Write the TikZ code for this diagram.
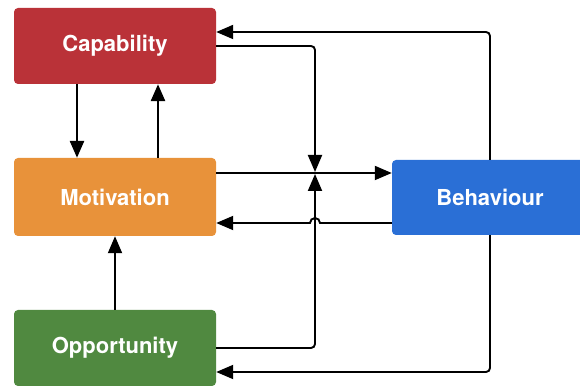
\documentclass[tikz,border=0pt]{standalone}
\usepackage{fontspec}
\setmainfont{TeX Gyre Heros}
\usetikzlibrary{arrows.meta}
\definecolor{capred}{RGB}{186,50,56}
\definecolor{motorange}{RGB}{232,146,58}
\definecolor{oppgreen}{RGB}{80,137,64}
\definecolor{behblue}{RGB}{42,111,214}
\tikzset{
  box/.style={rounded corners=4pt, minimum width=202pt, minimum height=76pt,
    inner sep=0pt, text=white, font=\fontsize{22}{26}\selectfont\bfseries},
  link/.style={line width=1.9pt, rounded corners=4pt},
  tip/.style={-{Triangle[length=17pt,width=14pt]}}
}

\begin{document}
\begin{tikzpicture}[x=1pt,y=1pt]
\useasboundingbox (0,0) rectangle (580,385);

% the four boxes
\node[box, fill=capred] (cap) at (115,339) {Capability};
\node[box, fill=motorange, minimum height=78pt] (mot) at (115,188) {Motivation};
\node[box, fill=oppgreen] (opp) at (115,37) {Opportunity};
\node[box, fill=behblue, minimum width=196pt, minimum height=75pt] (beh) at (490,187.5) {Behaviour};

% bends and meeting points
\coordinate (jtop) at (315,213); \coordinate (jbot) at (315,211);
\coordinate (ttop) at (490,353); \coordinate (tbot) at (490,13);

% left column
\draw[link, line width=2.7pt, tip] (cap.south -| 77,0) -- (mot.north -| 77,0);
\draw[link, line width=2.7pt, tip] (mot.north -| 158,0) -- (cap.south -| 158,0);
\draw[link, tip] (opp.north) -- (mot.south);

% to and from behaviour
\draw[link, tip] (mot.east |- 0,212) -- (beh.west |- 0,212);
\draw[line width=1.9pt, tip] (beh.west |- 0,162) -- (320,162)
  arc[start angle=0, end angle=180, radius=5] -- (mot.east |- 0,162);
\draw[link, tip] (cap.east) -| (jtop);
\draw[link, tip] (opp.east) -| (jbot);
\draw[link, tip] (beh.north) -- (ttop) -- (cap.east |- ttop);
\draw[link, tip] (beh.south) -- (tbot) -- (opp.east |- tbot);

\end{tikzpicture}
\end{document}
